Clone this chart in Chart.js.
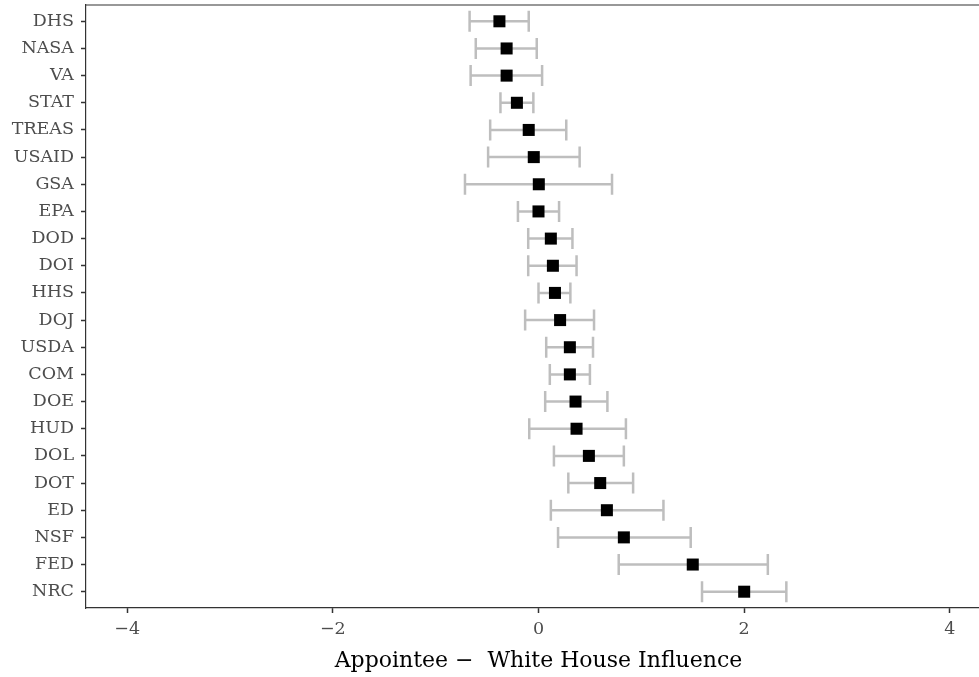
<!DOCTYPE html>
<html>
<head>
<meta charset="utf-8">
<script src="https://cdn.jsdelivr.net/npm/chart.js@4.4.0/dist/chart.umd.min.js"></script>
<style>
  html, body { margin: 0; padding: 0; background: #fff; overflow: hidden; }
</style>
</head>
<body>
<canvas id="chart" width="991" height="677"></canvas>
<script>
// agencies, top to bottom
var agencies = ["DHS", "NASA", "VA", "STAT", "TREAS", "USAID", "GSA", "EPA", "DOD", "DOI", "HHS",
  "DOJ", "USDA", "COM", "DOE", "HUD", "DOL", "DOT", "ED", "NSF", "FED", "NRC"];

// point estimates
var estimate = [-0.38, -0.31, -0.31, -0.21, -0.095, -0.046, 0.003, 0.0, 0.12, 0.14, 0.16,
  0.21, 0.305, 0.305, 0.36, 0.37, 0.49, 0.60, 0.665, 0.83, 1.50, 2.0];

// interval ends
var lower = [-0.67, -0.61, -0.66, -0.37, -0.47, -0.49, -0.715, -0.2, -0.10, -0.10, 0.0,
  -0.13, 0.075, 0.11, 0.065, -0.09, 0.15, 0.29, 0.12, 0.19, 0.78, 1.59];
var upper = [-0.095, -0.017, 0.035, -0.05, 0.27, 0.40, 0.715, 0.2, 0.33, 0.37, 0.31,
  0.54, 0.53, 0.50, 0.67, 0.85, 0.83, 0.92, 1.215, 1.48, 2.23, 2.41];

var xTicks = [-4, -2, 0, 2, 4];

var points = new Array();
for (let i = 0; i < agencies.length; i++) {
  points.push({ x: estimate[i], y: i });
}

var FONT = "'DejaVu Serif', serif";

// grey interval bars with caps, drawn under the squares
var errorBars = {
  id: "errorBars",
  beforeDatasetsDraw(chart) {
    var ctx = chart.ctx;
    var xs = chart.scales.x;
    var ys = chart.scales.y;
    ctx.save();
    ctx.strokeStyle = "#bebebe";
    ctx.lineWidth = 2.5;
    for (let i = 0; i < agencies.length; i++) {
      let y = ys.getPixelForValue(i);
      let x0 = xs.getPixelForValue(lower[i]);
      let x1 = xs.getPixelForValue(upper[i]);
      ctx.beginPath();
      ctx.moveTo(x0, y); ctx.lineTo(x1, y);
      ctx.moveTo(x0, y - 10.5); ctx.lineTo(x0, y + 10.5);
      ctx.moveTo(x1, y - 10.5); ctx.lineTo(x1, y + 10.5);
      ctx.stroke();
    }
    ctx.restore();
  },
  afterDraw(chart) {
    // top border of the panel
    var a = chart.chartArea;
    var ctx = chart.ctx;
    ctx.save();
    ctx.strokeStyle = "#333333";
    ctx.lineWidth = 1.2;
    ctx.beginPath();
    ctx.moveTo(a.left, a.top);
    ctx.lineTo(a.right, a.top);
    ctx.stroke();
    ctx.restore();
  }
};

// no extra room for tick labels at the ends of the axes
function noPad(scale) {
  scale.paddingTop = 0;
  scale.paddingBottom = 0;
  scale.paddingLeft = 0;
  scale.paddingRight = 0;
}

new Chart(document.getElementById("chart"), {
  type: "scatter",
  data: {
    datasets: [{
      data: points,
      pointStyle: "rect",
      pointRadius: 8.5,
      pointHoverRadius: 8.5,
      backgroundColor: "#000000",
      borderWidth: 0
    }]
  },
  options: {
    responsive: false,
    animation: false,
    layout: { autoPadding: false, padding: { top: 5, right: 0, left: 0, bottom: 0 } },
    plugins: {
      legend: { display: false },
      tooltip: { enabled: false }
    },
    scales: {
      x: {
        type: "linear",
        min: -4.4,
        max: 4.4,
        afterBuildTicks: (scale) => { scale.ticks = xTicks.map(v => ({ value: v })); },
        afterFit: (scale) => { scale.height = 69; noPad(scale); },
        grid: { drawOnChartArea: false, tickLength: 5, tickWidth: 1.5, tickColor: "#333333" },
        border: { display: true, color: "#333333", width: 1.2 },
        ticks: {
          color: "#4d4d4d",
          font: { family: FONT, size: 17.5 },
          padding: 6,
          maxRotation: 0,
          callback: (v) => (v < 0 ? "\u2212" + Math.abs(v) : "" + v)
        },
        title: {
          display: true,
          text: "Appointee \u2212  White House Influence",
          color: "#000000",
          font: { family: FONT, size: 22 },
          padding: { top: 0, bottom: 3 }
        }
      },
      y: {
        type: "linear",
        reverse: true,
        min: -0.6,
        max: 21.6,
        afterBuildTicks: (scale) => { scale.ticks = agencies.map((a, i) => ({ value: i })); },
        afterFit: (scale) => { scale.width = 86; noPad(scale); },
        grid: { drawOnChartArea: false, tickLength: 5, tickWidth: 1.5, tickColor: "#333333" },
        border: { display: true, color: "#333333", width: 1.2 },
        ticks: {
          color: "#4d4d4d",
          font: { family: FONT, size: 17.5 },
          padding: 7,
          autoSkip: false,
          callback: (v) => agencies[v]
        }
      }
    }
  },
  plugins: [errorBars]
});
</script>
</body>
</html>
